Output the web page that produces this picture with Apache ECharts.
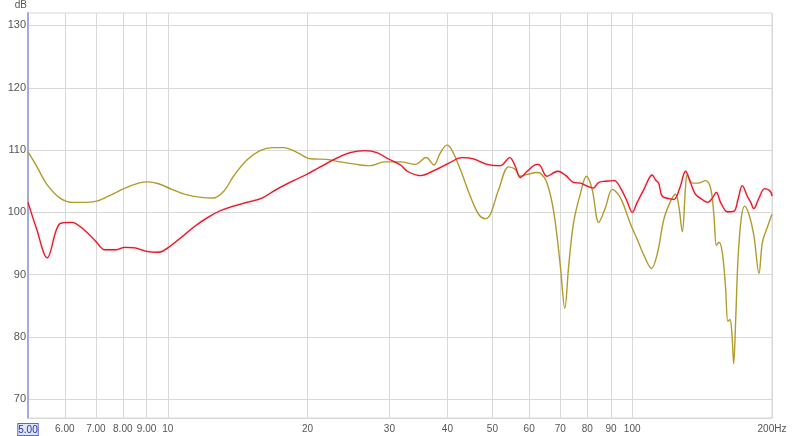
<!DOCTYPE html>
<html><head><meta charset="utf-8">
<script src="https://cdn.jsdelivr.net/npm/echarts@6/dist/echarts.min.js"></script>
<style>html,body{margin:0;padding:0;background:#fff}#c{width:800px;height:436px}</style>
</head><body><div id="c"></div>
<script>
const freqTicks = [5,6,7,8,9,10,20,30,40,50,60,70,80,90,100,200];
const dbTicks = [70,80,90,100,110,120,130];

const oliveFreq = [5,5.22,5.49,5.86,6.26,6.63,7.03,7.45,8.09,8.65,9.05,9.55,10.2,10.9,11.8,12.5,13.2,13.85,14.8,15.8,16.8,17.75,19.0,20.3,22,23.5,25.5,27.3,29.2,31.7,34.1,36,37.4,38.6,39.9,40.9,42.7,44.8,46.7,48.3,49.5,51.6,54.2,56,57.4,59.4,62.4,63.4,65.5,67.8,70,71.6,73,74.8,77.4,79.7,82,84.7,87.6,90.6,94.4,99.2,102.5,106,110,113.3,117,121,124,126,128.2,130.3,131.4,134.7,139,143.8,147.5,150,151.8,153.7,156.3,158.9,160.7,162.4,164,165.4,167,169,171.8,174.6,178.4,182.8,187.5,190.7,195.4,200];
const oliveDb = [109.7,107.4,104.5,102.3,101.6,101.6,101.8,102.6,103.9,104.7,104.9,104.6,103.7,102.9,102.4,102.3,103.4,105.8,108.4,109.9,110.4,110.4,109.6,108.6,108.5,108.1,107.7,107.5,108.1,108.1,107.7,108.8,107.6,109.5,110.8,110.0,106.8,102.6,99.7,99.0,99.7,103.7,107.3,106.9,105.8,106.1,106.4,106.3,104.8,100,91.5,84.6,91.5,98.4,103.1,105.8,103.7,98.4,100.8,103.7,102.3,98.1,95.7,93.1,91,93.4,98.9,101.8,102.9,101,96.9,104.2,106,104.7,104.7,105.1,103.9,99.4,94.7,95.2,93.6,87.8,82.5,82.8,80.4,75.7,82.5,92.6,99.2,101,99.7,96.3,90.2,95.2,97.6,99.7];

const redFreq = [5,5.22,5.5,5.86,6.21,6.58,6.97,7.33,7.7,8.09,8.5,9.08,9.55,10,10.7,11.45,12.2,13.0,13.85,14.8,15.95,17.15,18.65,19.8,21.3,23.1,24.7,26.6,28.2,29.8,31.7,32.8,35,37.4,40.3,43,45.5,48.7,52,54.5,56,57.4,59.4,62.4,63.4,65.5,69.1,72,74.8,77.4,80,82.4,84.7,87.6,91.5,94.4,97.5,100,102.5,106,110.4,112.3,114,116,120,123,126.6,130.3,133.6,136.9,141.3,145.5,148.5,151.8,155,160.3,165.7,169,172.6,177,180,182.8,187.5,192.9,198.3,200];
const redDb = [101.6,97.3,92.7,98.2,98.4,97.3,95.5,94.0,94.0,94.4,94.3,93.7,93.6,94.3,96,97.8,99.2,100.3,101.0,101.6,102.3,103.7,105.1,106,107.3,108.7,109.6,109.9,109.6,108.6,107.6,106.6,105.9,106.7,107.9,108.8,108.6,107.7,107.5,108.8,107.4,105.6,106.6,107.7,107.5,105.8,106.6,105.9,104.8,104.7,104.2,103.9,104.8,105,105.1,103.9,101.8,100,101.6,103.7,106,105.2,104.7,102.6,102.2,102.1,103.9,106.6,104.7,102.9,102.1,101.6,102.2,103.2,101.6,100.1,100.2,102.1,104.3,102.6,101.6,100.6,102.3,103.8,103.4,102.6];

const pairs = (xs, ys) => xs.map((x, i) => [x, ys[i]]);
const font = 'Liberation Sans, Arial, sans-serif';

const chart = echarts.init(document.getElementById('c'), null, {renderer: 'canvas'});
chart.setOption({
  animation: false,
  backgroundColor: '#fff',
  grid: {left: 28, right: 28, top: 12, bottom: 15, show: true, borderColor: '#d8d8d8', borderWidth: 1},
  xAxis: {
    type: 'log', logBase: 10, min: 5, max: 200,
    axisLine: {show: true, lineStyle: {color: '#d8d8d8'}},
    axisTick: {show: false, customValues: freqTicks},
    splitLine: {show: true, lineStyle: {color: '#d8d8d8', width: 1}},
    axisLabel: {
      customValues: freqTicks, color: '#555', fontFamily: font, fontSize: 10, margin: 6,
      formatter: v => v === 5 ? '{sel|5.00}' : (v < 10 ? v.toFixed(2) : (v === 200 ? '200Hz' : String(v))),
      rich: {sel: {color: '#223399', backgroundColor: '#dfe6fb', borderColor: '#5a6bc8', borderWidth: 1, padding: [1, 0, 0, 0], fontSize: 10, fontFamily: font}}
    }
  },
  yAxis: {
    type: 'value', min: 67, max: 132,
    name: 'dB', nameLocation: 'end', nameGap: 3,
    nameTextStyle: {color: '#555', fontFamily: font, fontSize: 10, align: 'right', padding: [0, 1, 0, 0]},
    axisLine: {show: true, lineStyle: {color: '#a3abd8', width: 2}},
    axisTick: {show: false, customValues: dbTicks},
    splitLine: {show: true, lineStyle: {color: '#d8d8d8', width: 1}},
    axisLabel: {customValues: dbTicks, color: '#555', fontFamily: font, fontSize: 11, margin: 2}
  },
  series: [
    {type: 'line', data: pairs(oliveFreq, oliveDb), showSymbol: false, smooth: 0.35,
     lineStyle: {color: '#b09c2c', width: 1.4}, itemStyle: {color: '#b09c2c'}},
    {type: 'line', data: pairs(redFreq, redDb), showSymbol: false, smooth: 0.35,
     lineStyle: {color: '#e0182a', width: 1.3, shadowColor: 'rgba(255,120,140,0.5)', shadowBlur: 2}, itemStyle: {color: '#e0182a'}}
  ]
});
</script></body></html>
